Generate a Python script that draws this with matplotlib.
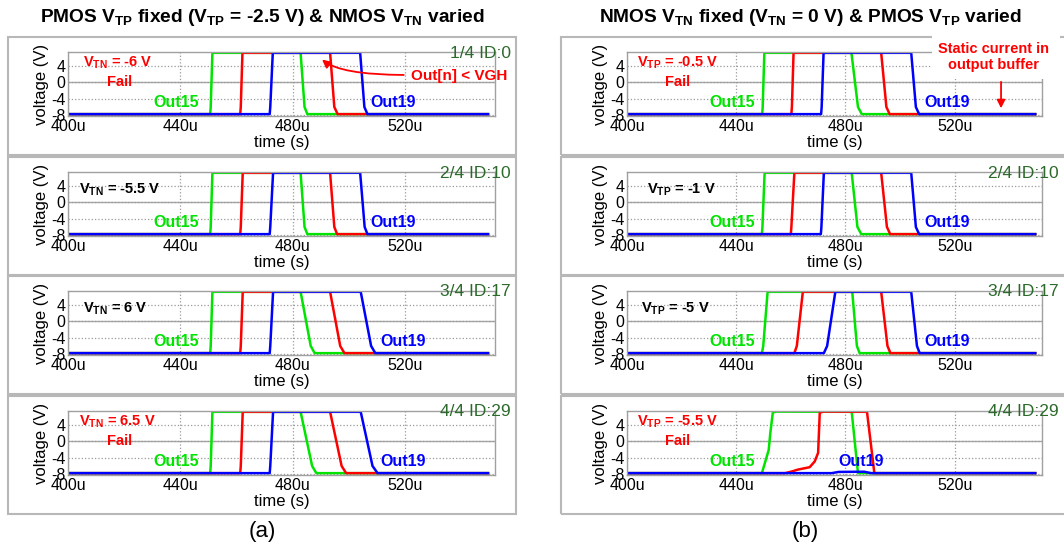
import matplotlib
matplotlib.use("Agg")
import matplotlib.pyplot as plt
from matplotlib.patches import Rectangle

plt.rcParams['font.family'] = ['Liberation Sans', 'DejaVu Sans']
plt.rcParams['mathtext.fontset'] = 'custom'
plt.rcParams['mathtext.rm'] = 'Liberation Sans'
plt.rcParams['mathtext.bf'] = 'Liberation Sans:bold'
plt.rcParams['axes.unicode_minus'] = False

# ====================== DATA ======================
LOW, HIGH, KNEE = -7.75, 7.2, -6.0
T_START, T_END = 400, 549.5

# edges (us): rise start, rise knee, rise end, fall start, fall knee, fall end
a_out15 = [(450.6, 450.8, 451.4, 482.8, 484.2, 485.2),
           (450.6, 450.8, 451.4, 482.8, 484.2, 485.2),
           (450.6, 450.8, 451.4, 482.8, 486.4, 487.8),
           (450.6, 450.8, 451.4, 482.8, 486.9, 488.4)]
a_out17 = [(461.3, 461.5, 462.1, 493.3, 494.8, 496.0),
           (461.3, 461.5, 462.2, 493.3, 494.8, 495.8),
           (461.3, 461.5, 462.2, 493.3, 496.9, 498.4),
           (461.3, 461.5, 462.2, 493.3, 497.4, 499.0)]
a_out19 = [(471.8, 472.0, 472.9, 504.0, 505.5, 506.6),
           (471.8, 472.0, 473.0, 504.0, 505.6, 506.6),
           (471.8, 472.0, 473.0, 504.2, 507.9, 509.4),
           (471.8, 472.0, 473.0, 504.2, 508.4, 510.2)]
b_out15 = [(449.5, 449.7, 450.3, 482.2, 484.6, 486.0),
           (449.4, 449.6, 450.4, 482.3, 484.4, 485.8),
           (449.4, 449.9, 451.5, 482.5, 484.2, 485.2)]
b_out17 = [(460.2, 460.4, 461.0, 493.1, 495.0, 496.2),
           (460.0, 460.2, 461.3, 493.1, 495.2, 496.4),
           (461.3, 462.2, 464.4, 493.1, 495.4, 496.5)]
b_out19 = [(471.1, 471.3, 472.0, 504.1, 505.8, 507.0),
           (471.0, 471.2, 472.1, 504.1, 505.8, 507.0),
           (472.1, 473.3, 476.3, 504.1, 506.2, 507.2)]

# panel (b) 4/4 (V_TP = -5.5 V), read point by point
b4_out15_t = [400, 449.4, 451.9, 452.5, 453.4, 454.5, 482.3, 484.6, 549.5]
b4_out15_v = [LOW, LOW, -2.1, 2.1, 7.0, 7.25, 7.2, LOW, LOW]
b4_out17_t = [400, 457.9, 460.6, 462.5, 466.9, 468.75, 470.0, 470.6, 471.9, 487.9, 490.6, 549.5]
b4_out17_v = [LOW, LOW, -7.3, -6.9, -6.3, -4.9, -2.8, 7.0, 7.25, 7.2, LOW, LOW]
b4_out19_t = [400, 475.0, 477.5, 486.9, 489.4, 549.5]
b4_out19_v = [LOW, LOW, -7.45, -7.4, LOW, LOW]

a_cond = ['= -6 V', '= -5.5 V', '= 6 V', '= 6.5 V']
b_cond = ['= -0.5 V', '= -1 V', '= -5 V', '= -5.5 V']
fail = [True, False, False, True]
ids = ['1/4 ID:0', '2/4 ID:10', '3/4 ID:17', '4/4 ID:29']

a_cond_x = [405.2, 403.9, 405.5, 403.9]
b_cond_x = [403.8, 407.5, 405.0, 403.8]
a_out19_x = [515.8, 515.8, 519.4, 519.4]
b_out19_x = [517.1, 517.1, 517.1, 485.6]

x_ticks = [400, 440, 480, 520]
x_tick_labels = ['400u', '440u', '480u', '520u']
y_ticks = [-8, -4, 0, 4]

# ====================== STYLES ======================
GREEN, RED, BLUE = '#00e400', '#ff0000', '#0000ff'
ID_GREEN = '#2b6a2b'
LW = 1.8
W, H = 1064, 552
ROW_TOP = [52, 172, 291, 411]
AX_H = 64
BOX_TOP = [37, 157, 276, 396]
BOX_H = 118
COL_AX = [(68, 495), (627, 1042)]
COL_BOX = [(8, 516), (561, 1080)]
ID_RIGHT = [511, 1059]

fig = plt.figure(figsize=(10.64, 5.52), dpi=100)


def trace(e):
    t = [T_START, e[0], e[1], e[2], e[3], e[4], e[5], T_END]
    v = [LOW, LOW, KNEE, HIGH, HIGH, KNEE, LOW, LOW]
    return t, v


def make_axes(col, row):
    x0, x1 = COL_AX[col]
    bx0, bx1 = COL_BOX[col]
    fig.add_artist(Rectangle((bx0 / W, 1 - (BOX_TOP[row] + BOX_H) / H),
                             (bx1 - bx0) / W, BOX_H / H,
                             transform=fig.transFigure, fill=False,
                             ec='#b8b8b8', lw=1.5, zorder=0))
    ax = fig.add_axes([x0 / W, 1 - (ROW_TOP[row] + AX_H) / H,
                       (x1 - x0) / W, AX_H / H])
    ax.set_xlim(400, 552)
    ax.set_ylim(-8.2, 7.4)
    ax.set_xticks(x_ticks)
    ax.set_xticklabels(x_tick_labels)
    ax.set_yticks(y_ticks)
    ax.set_yticklabels([str(y) for y in y_ticks])
    ax.tick_params(length=0, labelsize=11.5, pad=2)
    for s in ax.spines.values():
        s.set_color('#a0a0a0')
        s.set_linewidth(1.0)
    ax.grid(True, linestyle=':', color='#9a9a9a', lw=0.9)
    ax.axhline(0, color='#a8a8a8', lw=1.0, zorder=0.5)
    ax.set_xlabel('time (s)', fontsize=12, labelpad=1)
    ax.set_ylabel('voltage (V)', fontsize=12, labelpad=1)
    # the 1/4 label of panel (b) is hidden under the note box
    if not (col == 1 and row == 0):
        fig.text(ID_RIGHT[col] / W, 1 - (BOX_TOP[row] + 16) / H, ids[row],
                 ha='right', va='center', fontsize=12.5, color=ID_GREEN)
    return ax


def labels(ax, row, sub, cond, cx, o19x):
    c = RED if fail[row] else 'black'
    y = 4.7 if fail[row] else 3.0
    ax.text(cx, y, r'V$_{\mathbf{' + sub + '}}$ ' + cond, color=c,
            fontsize=10.5, fontweight='bold', ha='left', va='center')
    if fail[row]:
        ax.text(418.5, 0.1, 'Fail', color=RED, fontsize=10.5,
                fontweight='bold', ha='center', va='center')
    ax.text(438.6, -4.9, 'Out15', color=GREEN, fontsize=11.5,
            fontweight='bold', ha='center', va='center')
    ax.text(o19x, -4.9, 'Out19', color=BLUE, fontsize=11.5,
            fontweight='bold', ha='center', va='center')


# ====================== PANELS (a) ======================
for row in range(4):
    ax = make_axes(0, row)
    for edges, c in [(a_out15, GREEN), (a_out17, RED), (a_out19, BLUE)]:
        t, v = trace(edges[row])
        ax.plot(t, v, color=c, lw=LW)
    labels(ax, row, 'TN', a_cond[row], a_cond_x[row], a_out19_x[row])
    if row == 0:
        ax.text(522.0, 1.6, 'Out[n] < VGH', color=RED, fontsize=11,
                fontweight='bold', ha='left', va='center', clip_on=False)
        ax.annotate('', xy=(489.7, 6.0), xytext=(520.5, 1.8),
                    arrowprops=dict(arrowstyle='-|>', color=RED, lw=1.3,
                                    mutation_scale=12,
                                    connectionstyle='angle3,angleA=0,angleB=-45'))

# ====================== PANELS (b) ======================
for row in range(4):
    ax = make_axes(1, row)
    if row < 3:
        for edges, c in [(b_out15, GREEN), (b_out17, RED), (b_out19, BLUE)]:
            t, v = trace(edges[row])
            ax.plot(t, v, color=c, lw=LW)
    else:
        ax.plot(b4_out15_t, b4_out15_v, color=GREEN, lw=LW)
        ax.plot(b4_out17_t, b4_out17_v, color=RED, lw=LW)
        ax.plot(b4_out19_t, b4_out19_v, color=BLUE, lw=LW)
    labels(ax, row, 'TP', b_cond[row], b_cond_x[row], b_out19_x[row])
    if row == 0:
        ax.annotate('', xy=(537, -7.0), xytext=(537, 0.8),
                    arrowprops=dict(arrowstyle='-|>', color=RED, lw=1.3,
                                    mutation_scale=12))

# white patch over the top right of (b) 1/4 with the note
fig.add_artist(Rectangle((932 / W, 1 - 79 / H), 128 / W, 49 / H,
                         transform=fig.transFigure, fc='white', ec='none',
                         zorder=5))
fig.text(994 / W, 1 - 57 / H, 'Static current in\noutput buffer', color=RED,
         fontsize=10.5, fontweight='bold', ha='center', va='center',
         linespacing=1.25, zorder=6)

# ====================== TITLES ======================
fig.text(262 / W, 1 - 17 / H,
         r'PMOS V$_{\mathbf{TP}}$ fixed (V$_{\mathbf{TP}}$ = -2.5 V) & NMOS V$_{\mathbf{TN}}$ varied',
         ha='center', va='center', fontsize=13.8, fontweight='bold')
fig.text(810 / W, 1 - 17 / H,
         r'NMOS V$_{\mathbf{TN}}$ fixed (V$_{\mathbf{TN}}$ = 0 V) & PMOS V$_{\mathbf{TP}}$ varied',
         ha='center', va='center', fontsize=13.8, fontweight='bold')
fig.text(262 / W, 1 - 532 / H, '(a)', ha='center', va='center', fontsize=16)
fig.text(805 / W, 1 - 532 / H, '(b)', ha='center', va='center', fontsize=16)

fig.savefig('out.png', dpi=100, facecolor='white')
